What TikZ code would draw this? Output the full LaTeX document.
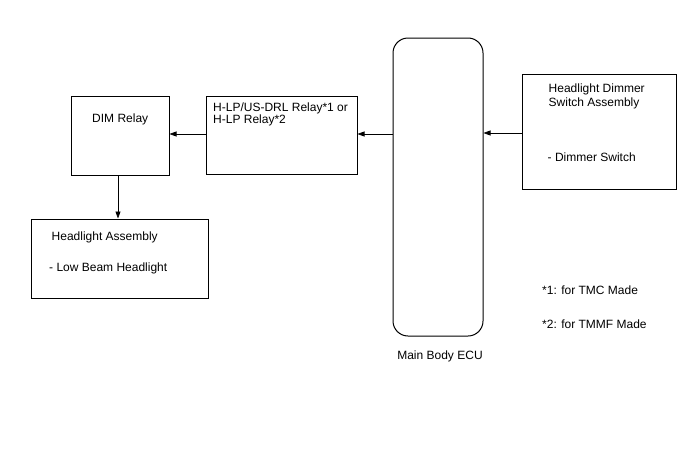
\documentclass[tikz,border=0pt]{standalone}
\usepackage{fontspec}
\setmainfont{Liberation Sans}
\usetikzlibrary{arrows.meta}

\tikzset{
  blk/.style={draw, line width=1pt, inner sep=0pt},
  txt/.style={anchor=base west, inner sep=0pt},
  conn/.style={line width=0.7pt, -{Triangle[length=7pt,width=5pt]}}
}

\begin{document}
\begin{tikzpicture}[x=1pt,y=-1pt,font=\fontsize{12}{14}\selectfont]
\useasboundingbox (0,0) rectangle (688,463);
% boxes
\node[blk, minimum width=98, minimum height=79] (dim) at (120,135.5) {};
\node[blk, minimum width=151, minimum height=78] (hlp) at (281.5,135) {};
\node[blk, rounded corners=15pt, minimum width=90, minimum height=298] (ecu) at (438,187) {};
\node[blk, minimum width=154, minimum height=115] (dimsw) at (599,131.5) {};
\node[blk, minimum width=177, minimum height=79] (head) at (119.5,258.5) {};
% texts
\node[txt] (dimt) at (92,122.5) {DIM Relay};
\node[txt] (hlpa) at (213,111) {H-LP/US-DRL Relay*1 or};
\node[txt] (hlpb) at (213,123.7) {H-LP Relay*2};
\node[txt] (dimswa) at (548.5,92.3) {Headlight Dimmer};
\node[txt] (dimswb) at (548.5,106) {Switch Assembly};
\node[txt] (dimswc) at (547.5,161) {- Dimmer Switch};
\node[txt] (heada) at (51.5,240.3) {Headlight Assembly};
\node[txt] (headb) at (49,271.7) {- Low Beam Headlight};
\node[anchor=base, inner sep=0pt] (ecut) at (440,359) {Main Body ECU};
\node[txt] (nb1) at (542,294.5) {*1: for TMC Made};
\node[txt] (nb2) at (542,328.5) {*2: for TMMF Made};
% connectors
\draw[conn] (dimsw.west |- 0,133) -- (ecu.east |- 0,133);
\draw[conn] (ecu.west |- 0,134) -- (hlp.east |- 0,134);
\draw[conn] (hlp.west |- 0,134) -- (dim.east |- 0,134);
\draw[conn] (dim.south -| 118,0) -- (head.north -| 118,0);
\end{tikzpicture}
\end{document}
